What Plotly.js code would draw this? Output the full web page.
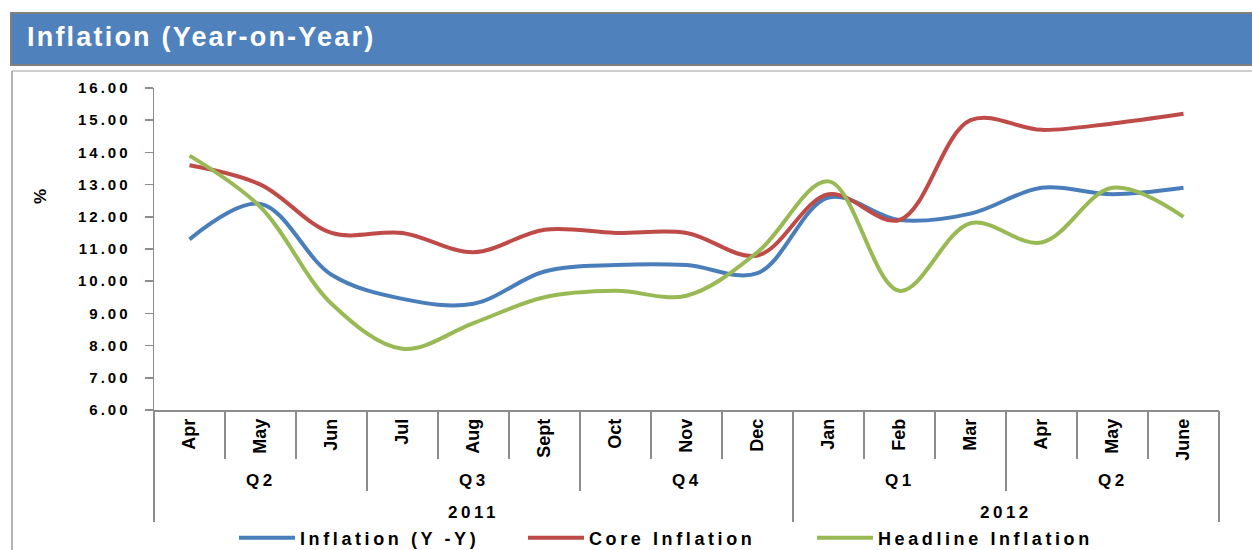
<!DOCTYPE html>
<html><head><meta charset="utf-8">
<script src="https://cdn.plot.ly/plotly-3.0.1.min.js"></script>
<style>
html,body{margin:0;padding:0;background:#fff;}
#chart{width:1252px;height:550px;}
.legendtext{letter-spacing:3.6px;}
.ytick text{letter-spacing:3px;}
.annotation-text{letter-spacing:3.5px;}
.gtitle{letter-spacing:2.2px;}
</style></head><body><div id="chart"></div>
<script>
// ---- data ----
const months = ['Apr','May','Jun','Jul','Aug','Sept','Oct','Nov','Dec','Jan','Feb','Mar','Apr','May','June'];
const inflationYY = [11.3, 12.4, 10.2, 9.45, 9.3, 10.3, 10.5, 10.5, 10.25, 12.6, 11.9, 12.1, 12.9, 12.7, 12.9];
const coreInflation = [13.6, 13.0, 11.5, 11.5, 10.9, 11.6, 11.5, 11.5, 10.8, 12.7, 11.9, 15.0, 14.7, 14.9, 15.2];
const headlineInflation = [13.9, 12.3, 9.3, 7.9, 8.7, 9.5, 9.7, 9.55, 10.9, 13.1, 9.7, 11.8, 11.2, 12.9, 12.0];
const quarterLabels = ['Q2','Q3','Q4','Q1','Q2'];
const quarterSpans = [3,3,3,3,3];
const yearLabels = ['2011','2012'];
const yearSpans = [9,6];
const seriesNames = ['Inflation (Y -Y)','Core Inflation','Headline Inflation'];
const seriesColors = ['#4A7EBB','#BE4B48','#98B954'];

// ---- geometry helpers ----
const W = 1252, H = 550;
const M = {l:154, r:33, t:88, b:140, autoexpand:false};
const pw = W - M.l - M.r, ph = H - M.t - M.b;
const px = x => (x - M.l) / pw;
const py = y => (H - M.b - y) / ph;

const FONT = 'Liberation Sans, Arial, sans-serif';
const idx = months.map((m,i)=>i);

function groups(spans){
  let start = 0; const centers = [], bounds = [-0.5];
  spans.forEach(s => { centers.push(start + (s-1)/2); start += s; bounds.push(start - 0.5); });
  return {centers, bounds};
}
const qg = groups(quarterSpans);
const yg = groups(yearSpans);
const monthBounds = idx.map(i=>i-0.5).concat([idx.length-0.5]);

const data = [inflationYY, coreInflation, headlineInflation].map((vals,k)=>({
  x: idx, y: vals, type:'scatter', mode:'lines', name: seriesNames[k],
  line:{color: seriesColors[k], width:4, shape:'spline', smoothing:1},
  xaxis:'x', yaxis:'y'
}));
['x2','x3','x4'].forEach(ax => data.push({x:[], y:[], type:'scatter', mode:'lines', xaxis:ax, yaxis:'y', showlegend:false, hoverinfo:'skip'}));

const range = [-0.5, idx.length - 0.5];
const tickColor = '#8C8C8C';
function tickAxis(vals, len){
  return {overlaying:'x', anchor:'y', side:'bottom', range: range, showgrid:false, zeroline:false,
    showline:false, showticklabels:false, tickmode:'array', tickvals: vals, ticks:'outside',
    ticklen: len, tickwidth:1.5, tickcolor: tickColor, fixedrange:true};
}

const annotations = [];
quarterLabels.forEach((q,i)=>annotations.push({xref:'x', yref:'paper', x: qg.centers[i], y: py(480),
  text:q, showarrow:false, xanchor:'center', yanchor:'middle', font:{family:FONT, size:17, weight:'bold', color:'#000'}}));
yearLabels.forEach((t,i)=>annotations.push({xref:'x', yref:'paper', x: yg.centers[i], y: py(512),
  text:t, showarrow:false, xanchor:'center', yanchor:'middle', font:{family:FONT, size:17, weight:'bold', color:'#000'}}));
annotations.push({xref:'paper', yref:'paper', x: px(40), y: py(195), text:'%', textangle:-90, showarrow:false,
  xanchor:'center', yanchor:'middle', font:{family:FONT, size:17, weight:'bold', color:'#000'}});

const shapes = [
  {type:'rect', xref:'paper', yref:'paper', x0:px(11), x1:px(1262), y0:py(13), y1:py(65),
   fillcolor:'#4F81BD', line:{color:'#7F7F7F', width:2}, layer:'below'},
  {type:'line', xref:'paper', yref:'paper', x0:px(12), x1:px(1262), y0:py(71), y1:py(71), line:{color:'#BFBFBF', width:1.5}},
  {type:'line', xref:'paper', yref:'paper', x0:px(12), x1:px(12), y0:py(71), y1:py(560), line:{color:'#999999', width:1.5}}
];

const layout = {
  width:W, height:H, margin:M, paper_bgcolor:'#fff', plot_bgcolor:'#fff',
  title:{text:'Inflation (Year-on-Year)', font:{family:FONT, size:27, color:'#fff', weight:'bold'},
    xref:'container', yref:'container', x:27/W, xanchor:'left', y:1-37/H, yanchor:'middle'},
  xaxis:{range:range, tickmode:'array', tickvals: idx, ticktext: months, tickangle:-90, ticks:'',
    showline:true, linecolor:tickColor, linewidth:1.5, showgrid:false, zeroline:false, fixedrange:true,
    tickfont:{family:FONT, size:18, weight:'bold', color:'#000'}},
  xaxis2: tickAxis(monthBounds, 48),
  xaxis3: tickAxis(qg.bounds, 80),
  xaxis4: tickAxis(yg.bounds, 111),
  yaxis:{range:[6,16], dtick:1, tick0:6, tickformat:'.2f', ticks:'outside', ticklen:8, tickwidth:1.5,
    tickcolor:tickColor, showline:true, linecolor:tickColor, linewidth:1.5, showgrid:false, zeroline:false,
    fixedrange:true, ticklabelstandoff:11, tickfont:{family:FONT, size:15, weight:'bold', color:'#000'}},
  legend:{orientation:'h', x:px(234), xanchor:'left', y:py(538), yanchor:'middle', itemwidth:56,
    entrywidth:218, entrywidthmode:'pixels',
    font:{family:FONT, size:18, weight:'bold', color:'#000'}, bgcolor:'rgba(0,0,0,0)', traceorder:'normal'},
  shapes: shapes, annotations: annotations, showlegend:true
};

Plotly.newPlot('chart', data, layout, {displayModeBar:false, staticPlot:true});
</script></body></html>
